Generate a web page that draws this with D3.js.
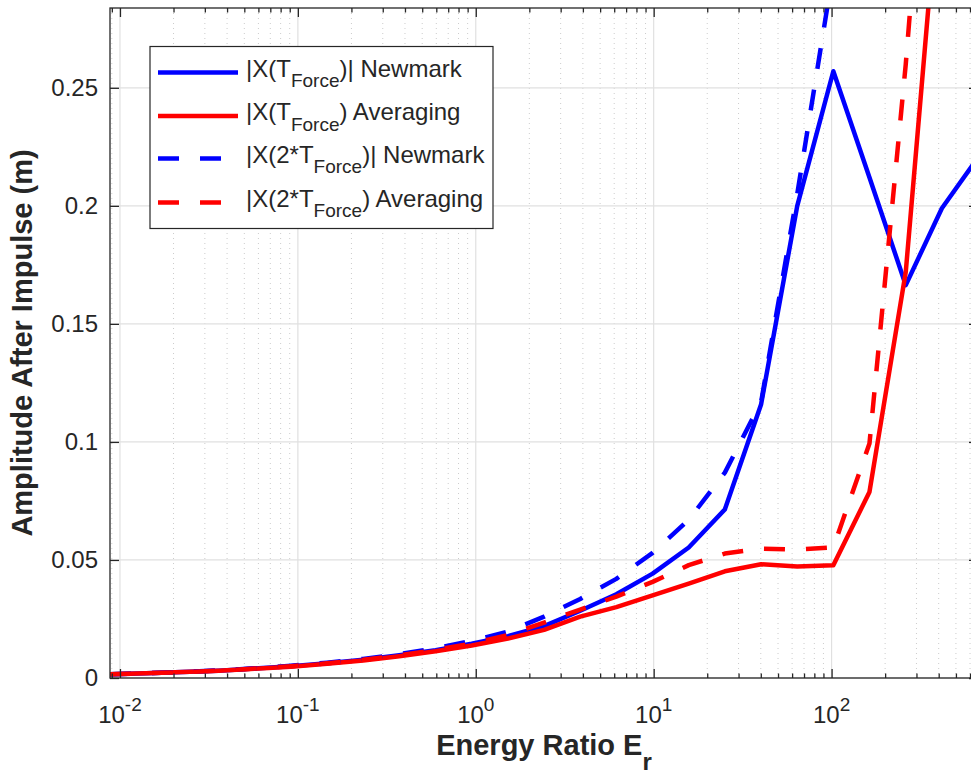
<!DOCTYPE html>
<html>
<head>
<meta charset="utf-8">
<script src="https://cdn.jsdelivr.net/npm/d3@7"></script>
<style>
  html, body { margin: 0; padding: 0; background: #fff; }
  svg { display: block; }
  text { font-family: "Liberation Sans", Arial, Helvetica, sans-serif; fill: #262626; }
</style>
</head>
<body>
<svg id="chart" width="971" height="777"></svg>
<script>
// ---- data ----
const energyRatio = [0.00879, 0.01403, 0.02244, 0.03581, 0.05715, 0.09141, 0.1459, 0.2328, 0.3715, 0.5943,
  0.9484, 1.517, 2.421, 3.864, 6.166, 9.863, 15.74, 25.12, 40.18, 64.12, 102.3, 163.3, 261.2, 416.9, 665.3];
const newmarkT = [0.0016, 0.0020, 0.0025, 0.0031, 0.0040, 0.0050, 0.0062, 0.0077, 0.0096, 0.0118,
  0.0145, 0.0177, 0.0220, 0.0285, 0.0355, 0.0442, 0.0553, 0.0714, 0.116, 0.200, 0.257, 0.212, 0.1664, 0.199, 0.2205];
const averagingT = [0.0016, 0.0020, 0.0025, 0.0031, 0.0039, 0.0048, 0.0060, 0.0074, 0.0092, 0.0113,
  0.0138, 0.0167, 0.0204, 0.0260, 0.0300, 0.0350, 0.0400, 0.0452, 0.0482, 0.0472, 0.0478, 0.0788, 0.172, 0.351, 0.55];
const newmark2T = [0.0016, 0.0020, 0.0025, 0.0032, 0.0041, 0.0052, 0.0065, 0.0081, 0.0101, 0.0126,
  0.0157, 0.0197, 0.0260, 0.0335, 0.0420, 0.0530, 0.0670, 0.0870, 0.117, 0.205, 0.300, 0.400, 0.500, 0.600, 0.700];
const averaging2T = [0.0016, 0.0020, 0.0025, 0.0031, 0.0040, 0.0050, 0.0062, 0.0077, 0.0096, 0.0119,
  0.0146, 0.0182, 0.0235, 0.0290, 0.0345, 0.0407, 0.0478, 0.0527, 0.0548, 0.0544, 0.0553, 0.0993, 0.260, 0.450, 0.600];

const yTicks = [0, 0.05, 0.1, 0.15, 0.2, 0.25];
const yTickLabels = ["0", "0.05", "0.1", "0.15", "0.2", "0.25"];
const xTickExponents = [-2, -1, 0, 1, 2];
const xDomain = [0.00879, 665.3];
const yDomain = [0, 0.2838];
const xLabelMain = "Energy Ratio E";
const xLabelSub = "r";
const yLabel = "Amplitude After Impulse (m)";

const series = [
  { values: newmarkT, color: "#0000ff", dash: null, pre: "|X(T", sub: "Force", post: ")| Newmark" },
  { values: averagingT, color: "#ff0000", dash: null, pre: "|X(T", sub: "Force", post: ") Averaging" },
  { values: newmark2T, color: "#0000ff", dash: "21,21", pre: "|X(2*T", sub: "Force", post: ")| Newmark" },
  { values: averaging2T, color: "#ff0000", dash: "21,21", pre: "|X(2*T", sub: "Force", post: ") Averaging" }
];

// ---- layout ----
const L = 110, T = 8, R = 978, B = 678;
const svg = d3.select("#chart");

const x = d3.scaleLog().domain(xDomain).range([L, R]);
const y = d3.scaleLinear().domain(yDomain).range([B, T]);

// minor x ticks
const minorX = [];
for (let e = -3; e <= 3; e++) {
  for (let m = 2; m <= 9; m++) {
    const v = m * Math.pow(10, e);
    if (v >= xDomain[0] && v <= xDomain[1]) minorX.push(v);
  }
}
const majorX = xTickExponents.map(e => Math.pow(10, e));

// grid
const grid = svg.append("g");
grid.selectAll(".minx").data(minorX).enter().append("line")
  .attr("x1", d => x(d)).attr("x2", d => x(d)).attr("y1", T).attr("y2", B)
  .attr("stroke", "#cccccc").attr("stroke-width", 1).attr("stroke-dasharray", "1,4");
grid.selectAll(".majx").data(majorX).enter().append("line")
  .attr("x1", d => x(d)).attr("x2", d => x(d)).attr("y1", T).attr("y2", B)
  .attr("stroke", "#e0e0e0").attr("stroke-width", 1.2);
grid.selectAll(".majy").data(yTicks).enter().append("line")
  .attr("x1", L).attr("x2", R).attr("y1", d => y(d)).attr("y2", d => y(d))
  .attr("stroke", "#e0e0e0").attr("stroke-width", 1.2);

// lines
svg.append("clipPath").attr("id", "clip").append("rect")
  .attr("x", L).attr("y", T).attr("width", R - L).attr("height", B - T);
const lineGen = d3.line().x(d => x(d[0])).y(d => y(d[1]));
const plotG = svg.append("g").attr("clip-path", "url(#clip)");
series.forEach(s => {
  plotG.append("path")
    .datum(energyRatio.map((e, i) => [e, s.values[i]]))
    .attr("d", lineGen)
    .attr("fill", "none")
    .attr("stroke", s.color)
    .attr("stroke-width", 4.5)
    .attr("stroke-linejoin", "round")
    .attr("stroke-dasharray", s.dash);
});

// axes (ticks inward)
const axG = svg.append("g");
const bottomAxis = d3.axisBottom(x).tickValues(majorX).tickSize(-9).tickFormat("");
const bottomMinor = d3.axisBottom(x).tickValues(minorX).tickSize(-4.5).tickFormat("");
const topAxis = d3.axisTop(x).tickValues(majorX).tickSize(-9).tickFormat("");
const topMinor = d3.axisTop(x).tickValues(minorX).tickSize(-4.5).tickFormat("");
const leftAxis = d3.axisLeft(y).tickValues(yTicks).tickSize(-9).tickFormat("");
const rightAxis = d3.axisRight(y).tickValues(yTicks).tickSize(-9).tickFormat("");
[[bottomAxis, `translate(0,${B})`], [bottomMinor, `translate(0,${B})`],
 [topAxis, `translate(0,${T})`], [topMinor, `translate(0,${T})`],
 [leftAxis, `translate(${L},0)`], [rightAxis, `translate(${R},0)`]].forEach(([a, tr]) => {
  const g = axG.append("g").attr("transform", tr).call(a);
  g.select(".domain").remove();
  g.selectAll(".tick line").attr("stroke", "#262626").attr("stroke-width", 1.3);
});
// box
svg.append("rect").attr("x", L).attr("y", T).attr("width", R - L).attr("height", B - T)
  .attr("fill", "none").attr("stroke", "#262626").attr("stroke-width", 1.3);

// x tick labels: 10^e
xTickExponents.forEach(e => {
  const t = svg.append("text").attr("x", x(Math.pow(10, e))).attr("y", 723)
    .attr("text-anchor", "middle").style("font-size", "24px");
  t.append("tspan").text("10");
  t.append("tspan").attr("dy", -12).style("font-size", "19px").text(String(e));
});

// y tick labels
yTicks.forEach((v, i) => {
  svg.append("text").attr("x", 98).attr("y", y(v)).attr("dy", "0.35em")
    .attr("text-anchor", "end").style("font-size", "24px").text(yTickLabels[i]);
});

// axis labels
const xl = svg.append("text").attr("x", (L + R) / 2).attr("y", 755)
  .attr("text-anchor", "middle").style("font-size", "29px").style("font-weight", "bold");
xl.append("tspan").text(xLabelMain);
xl.append("tspan").attr("dy", 15).style("font-size", "24px").text(xLabelSub);

svg.append("text").attr("transform", `translate(32,${(T + B) / 2}) rotate(-90)`)
  .attr("text-anchor", "middle").style("font-size", "29px").style("font-weight", "bold")
  .text(yLabel);

// legend
const lg = svg.append("g");
lg.append("rect").attr("x", 150).attr("y", 46.5).attr("width", 343).attr("height", 182)
  .attr("fill", "#fff").attr("stroke", "#262626").attr("stroke-width", 1.2);
const rowY = [72.5, 116, 158.5, 202.5];
series.forEach((s, i) => {
  lg.append("line").attr("x1", 158).attr("x2", 238).attr("y1", rowY[i]).attr("y2", rowY[i])
    .attr("stroke", s.color).attr("stroke-width", 4.5).attr("stroke-dasharray", s.dash);
  const t = lg.append("text").attr("x", 246).attr("y", rowY[i] + 4).style("font-size", "24px");
  t.append("tspan").text(s.pre);
  t.append("tspan").attr("dy", 10.5).style("font-size", "19px").text(s.sub);
  t.append("tspan").attr("dy", -10.5).text(s.post);
});
</script>
</body>
</html>
